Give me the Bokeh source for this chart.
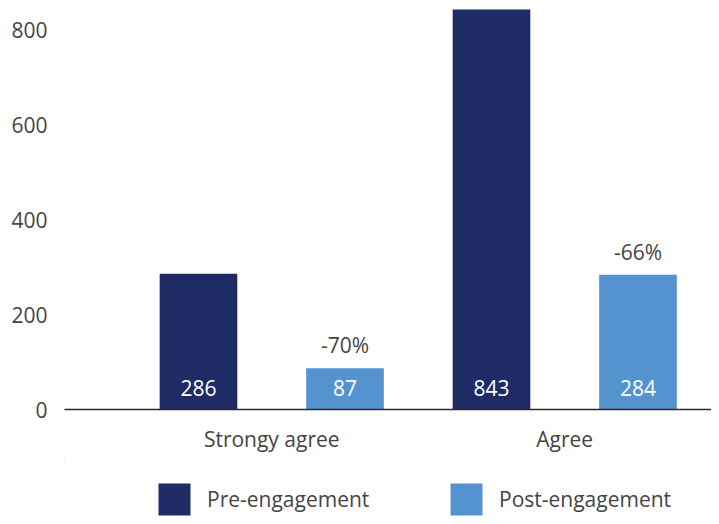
from bokeh.plotting import figure
from bokeh.layouts import column
from bokeh.models import ColumnDataSource, FixedTicker, Legend, LegendItem, Range1d
from bokeh.transform import dodge
from bokeh.core.properties import value
from bokeh.embed import file_html
from bokeh.resources import INLINE

categories = ["Strongy agree", "Agree"]
pre_values = [286, 843]
post_values = [87, 284]
change_labels = ["-70%", "-66%"]
series_names = ["Pre-engagement", "Post-engagement"]
y_ticks = [0, 200, 400, 600, 800]

FONT = "Open Sans"
FS = "21px"
NAVY = "#1f2b64"
BLUE = "#5593d0"
TEXT = "#444444"

x_idx = list(range(len(categories)))
src = ColumnDataSource(dict(
    x=x_idx,
    pre=pre_values,
    post=post_values,
    pre_lbl=[str(v) for v in pre_values],
    post_lbl=[str(v) for v in post_values],
    chg=change_labels,
    zero=[0] * len(categories),
))

p = figure(width=711, height=462, x_range=Range1d(-0.7073, 1.5009), y_range=Range1d(0, 862),
           output_backend="svg", toolbar_location=None,
           min_border_left=64, min_border_right=0, min_border_top=0, min_border_bottom=53)
p.outline_line_color = None
p.grid.grid_line_color = None
p.background_fill_color = "white"
p.border_fill_color = "white"

p.vbar(x=dodge("x", -0.25, range=p.x_range), top="pre", width=0.265, source=src,
       fill_color=NAVY, line_color=None)
p.vbar(x=dodge("x", 0.25, range=p.x_range), top="post", width=0.265, source=src,
       fill_color=BLUE, line_color=None)

p.text(x=dodge("x", -0.25, range=p.x_range), y="zero", text="pre_lbl", source=src,
       text_align="center", text_baseline="middle", y_offset=-22, text_color="white",
       text_font=value(FONT), text_font_size=FS)
p.text(x=dodge("x", 0.25, range=p.x_range), y="zero", text="post_lbl", source=src,
       text_align="center", text_baseline="middle", y_offset=-22, text_color="white",
       text_font=value(FONT), text_font_size=FS)
p.text(x=dodge("x", 0.25, range=p.x_range), y="post", text="chg", source=src,
       text_align="center", text_baseline="middle", y_offset=-23, text_color=TEXT,
       text_font=value(FONT), text_font_size=FS)

xa = p.xaxis[0]
xa.ticker = FixedTicker(ticks=x_idx)
xa.major_label_overrides = {i: c for i, c in enumerate(categories)}
xa.major_tick_line_color = None
xa.minor_tick_line_color = None
xa.axis_line_color = "#2a2a2a"
xa.axis_line_width = 1.5
xa.major_label_standoff = 9
xa.major_label_text_font = FONT
xa.major_label_text_font_size = FS
xa.major_label_text_color = TEXT

ya = p.yaxis[0]
ya.ticker = FixedTicker(ticks=y_ticks)
ya.axis_line_color = None
ya.major_tick_line_color = None
ya.minor_tick_line_color = None
ya.major_label_standoff = 11
ya.major_label_text_font = FONT
ya.major_label_text_font_size = FS
ya.major_label_text_color = TEXT

# legend strip below the chart (its bars lie fully outside its visible ranges)
lg = figure(width=711, height=54, x_range=Range1d(100, 101), y_range=Range1d(-1001, -1000),
            output_backend="svg", toolbar_location=None, min_border=0)
lg.axis.visible = False
lg.grid.grid_line_color = None
lg.outline_line_color = None
lg.background_fill_color = "white"
lg.border_fill_color = "white"
r_pre = lg.vbar(x="x", top="pre", width=0.265, source=src, fill_color=NAVY, line_color=None)
r_post = lg.vbar(x="x", top="post", width=0.265, source=src, fill_color=BLUE, line_color=None)

legend = Legend(items=[LegendItem(label=series_names[0], renderers=[r_pre], index=0),
                       LegendItem(label=series_names[1], renderers=[r_post], index=0)],
                orientation="horizontal", glyph_width=40, glyph_height=40,
                label_standoff=13, label_width=200, spacing=39, padding=0, margin=0,
                border_line_color=None, background_fill_alpha=0,
                label_text_font=FONT, label_text_font_size=FS,
                label_text_color=TEXT, location=(90, -3))
lg.add_layout(legend, "center")

open("out.html", "w").write(file_html(column(p, lg, spacing=0), INLINE))
